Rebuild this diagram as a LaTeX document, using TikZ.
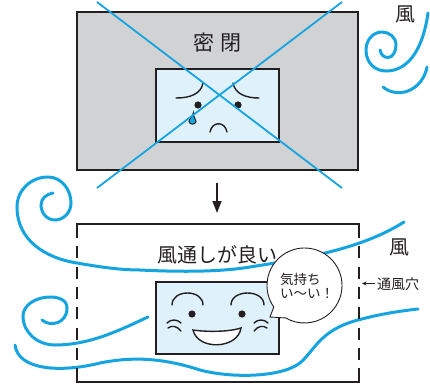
\documentclass[tikz,border=0pt]{standalone}
\usepackage{fontspec}
\newfontfamily\jp{Noto Sans CJK JP}
\usetikzlibrary{arrows.meta}
\definecolor{ink}{HTML}{231F20}
\definecolor{wind}{HTML}{16A4E0}
\definecolor{wall}{HTML}{D1D2D4}
\definecolor{screen}{HTML}{DFF2FB}

\begin{document}
\begin{tikzpicture}[x=1pt,y=-1pt,
  frame/.style={draw=ink, line width=2.7pt, line join=miter},
  screenbox/.style={draw=ink, fill=screen, line width=2.7pt, line join=miter},
  windline/.style={draw=wind, line width=3pt, line cap=round},
  crossline/.style={draw=wind, line width=1.8pt},
  feature/.style={draw=ink, line width=1.4pt, line cap=round},
  eye/.style={fill=ink},
  bigtext/.style={text=ink, inner sep=0pt, font=\jp\fontsize{20}{20}\selectfont},
  smalltext/.style={text=ink, inner sep=0pt, font=\jp\fontsize{13.5}{13.5}\selectfont},
]
\useasboundingbox (0,0) rectangle (430,385);

% ---------- closed room ----------
\path[fill=wall, frame] (77,12) rectangle (358,170);
\node[bigtext, font=\jp\fontsize{21}{21}\selectfont] (closedLbl) at (217.5,43) {密\hspace{5.5pt}閉};
\path[screenbox] (156,69) rectangle (279,142);

% sad face
\draw[feature] (176,98) .. controls (190,98) and (201,94) .. (203,83);
\draw[feature] (233,83) .. controls (235,94) and (246,98) .. (259,98);
\fill[eye] (198,105) circle[radius=3.6];
\fill[eye] (238,105) circle[radius=3.6];
\draw[feature] (210,132) .. controls (212,121) and (225,121) .. (227,132);
\draw[draw=ink, fill=wind, line width=1pt]
  (193.5,112.5) .. controls (193,117) and (196,118.5) .. (196,121.5)
  .. controls (196,125) and (189,125) .. (189,121.5)
  .. controls (189,118.5) and (192.5,117) .. (193.5,112.5) -- cycle;

% crossed out
\coordinate (xa1) at (97,2);
\coordinate (xa2) at (342,188);
\coordinate (xb1) at (342,2);
\coordinate (xb2) at (97,188);
\draw[crossline] (xa1) -- (xa2);
\draw[crossline] (xb1) -- (xb2);

% wind at the top right
\draw[windline] (380,50) .. controls (381,55) and (384,57.5) .. (388,57.5)
  .. controls (393,57.5) and (396,51) .. (396,45)
  .. controls (396,37) and (389,32) .. (382,32)
  .. controls (373,32) and (366,40) .. (366,50)
  .. controls (366,63) and (375,71) .. (386,71)
  .. controls (405,71) and (422,55) .. (428,13);
\draw[windline] (383,87) .. controls (390,93) and (400,94) .. (408,91)
  .. controls (418,87) and (425,78) .. (427,67);
\node[bigtext] (windTop) at (405,14) {風};

% ---------- arrow ----------
\coordinate (arrowTop) at (217,183);
\coordinate (arrowBot) at (217,213);
\draw[ink, line width=1.5pt, -{Triangle[length=12pt,width=9pt]}] (arrowTop) -- (arrowBot);

% ---------- ventilated room ----------
% winds
\draw[windline] (53,193) .. controls (47,194) and (41,198) .. (41,205)
  .. controls (41,213) and (47,220) .. (55,220)
  .. controls (64,220) and (71,212) .. (71,203)
  .. controls (71,189) and (61,177) .. (48,177)
  .. controls (31,177) and (17,190) .. (17,207)
  .. controls (17,240) and (45,258) .. (77,263)
  .. controls (100,267) and (120,270) .. (140,270)
  .. controls (180,272) and (220,272) .. (250,267)
  .. controls (300,259) and (360,250) .. (404,222);
\draw[windline] (42,320) .. controls (50,327) and (67,324) .. (67,308)
  .. controls (67,300) and (59,297) .. (50,297)
  .. controls (36,297) and (23,305) .. (23,316)
  .. controls (23,333) and (38,345) .. (55,345)
  .. controls (90,345) and (120,330) .. (148,317);
\draw[windline] (15,345) .. controls (18,370) and (60,373) .. (100,363)
  .. controls (130,357) and (160,357) .. (200,370)
  .. controls (230,378) and (280,378) .. (300,363)
  .. controls (315,350) and (320,330) .. (358,320)
  .. controls (380,314) and (400,311) .. (418,309);

% walls with vents
\draw[frame] (77,238) -- (77,224) -- (359,224) -- (359,238);
\draw[frame] (77,368) -- (77,382) -- (359,382) -- (359,368);
\draw[draw=ink, line width=2.7pt, dash pattern=on 12pt off 8.3pt] (77,246.3) -- (77,360);
\draw[draw=ink, line width=2.7pt, dash pattern=on 12pt off 8.3pt] (359,246.3) -- (359,360);

\node[bigtext] (goodLbl) at (217,255) {風通しが良い};
\node[bigtext] (windMid) at (399,247) {風};

% vent label
\coordinate (ventTail) at (375,283.5);
\coordinate (ventTip) at (362,283.5);
\draw[ink, line width=0.8pt, -{Stealth[length=4.5pt,width=4pt]}] (ventTail) -- (ventTip);
\node[smalltext, anchor=west, font=\jp\fontsize{14}{14}\selectfont] (ventLbl) at (377,284) {通風穴};

% happy face
\path[screenbox] (156,282) rectangle (279,354);
\draw[feature] (172,305) .. controls (172,289) and (203,289) .. (203,305);
\draw[feature] (231,305) .. controls (231,289) and (264,289) .. (264,305);
\fill[eye] (192,314) circle[radius=3.6];
\fill[eye] (242,314) circle[radius=3.6];
\draw[feature] (167,323) .. controls (171,319) and (177,319) .. (181,323);
\draw[feature] (168,328) .. controls (172,325) and (177,326) .. (181,331);
\draw[feature] (268,323) .. controls (264,319) and (258,319) .. (254,323);
\draw[feature] (267,328) .. controls (263,325) and (258,326) .. (254,331);
\draw[feature, fill=white] (193,330) .. controls (206,332) and (229,332) .. (241,328)
  .. controls (238,349) and (198,351) .. (193,330) -- cycle;

% speech bubble
\path[draw=ink, line width=0.9pt, fill=white]
  (304.5,285.5) ++(145:37.5) arc[start angle=145, end angle=480, radius=37.5]
  -- (270,317) -- cycle;
\node[smalltext, anchor=west] (say1) at (280,279) {気持ち};
\node[smalltext, anchor=west] (say2) at (280,294) {い〜い！};
\end{tikzpicture}
\end{document}
